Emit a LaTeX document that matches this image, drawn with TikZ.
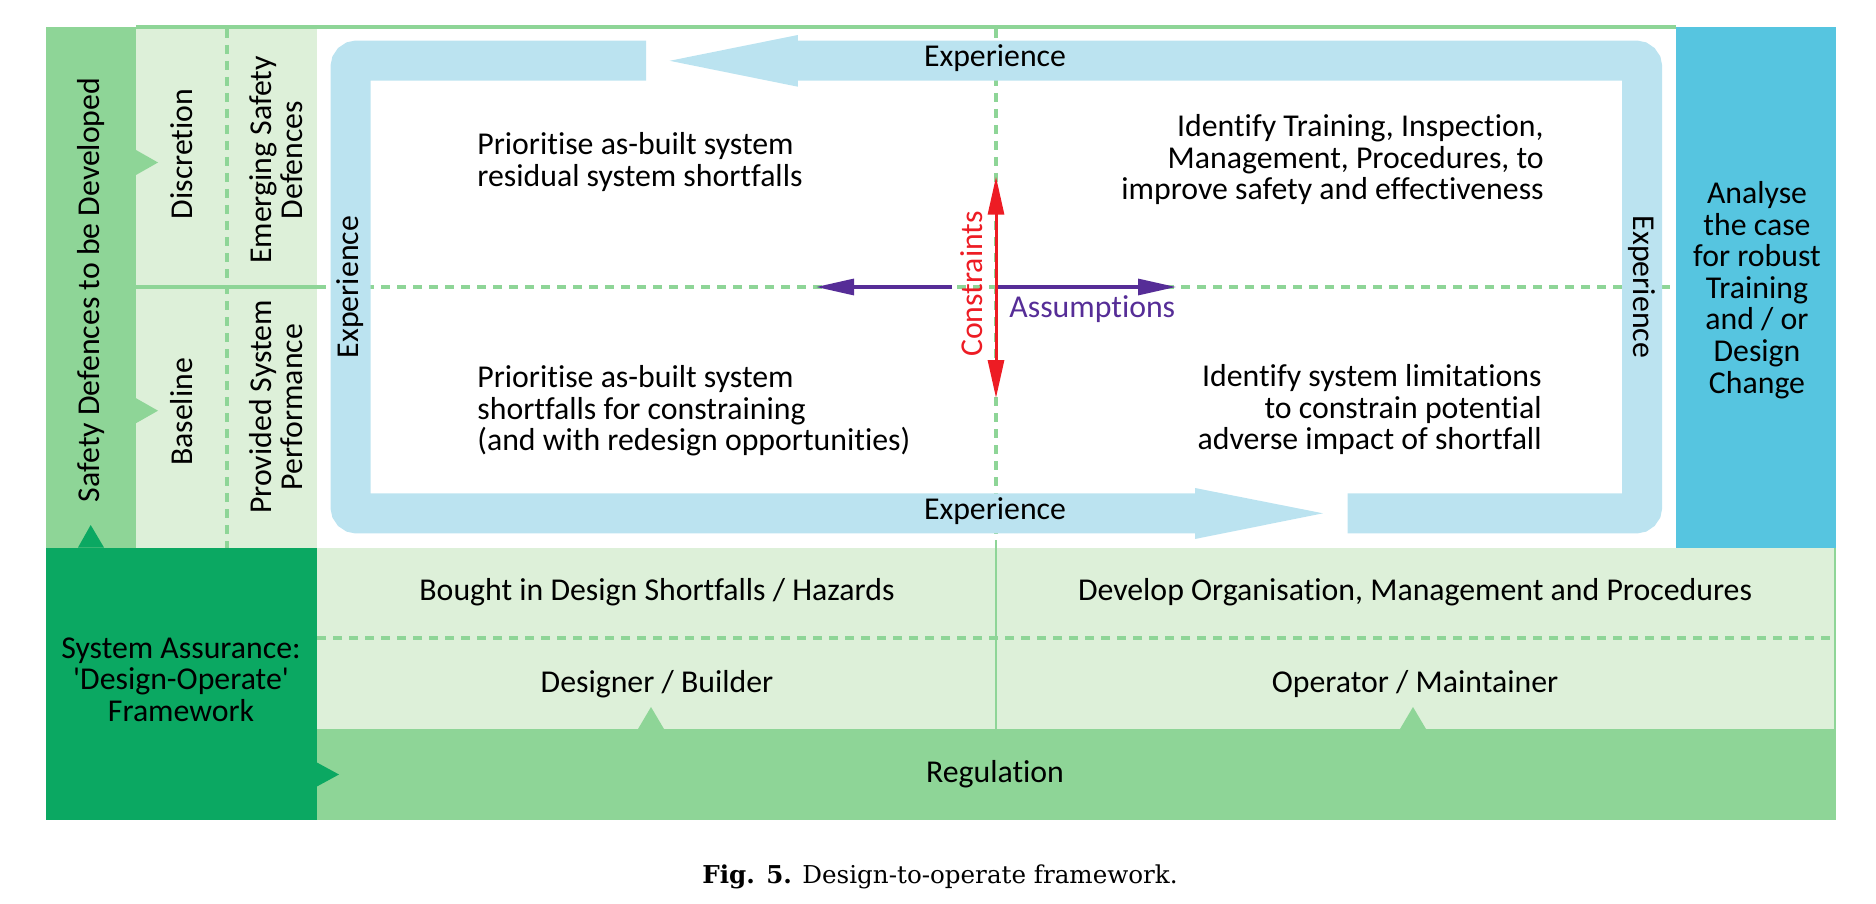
\documentclass[tikz,border=0pt]{standalone}
\usepackage{fontspec}
\setmainfont{Carlito}[Ligatures=NoCommon]
\newfontfamily\captionserif{DejaVu Serif}
\usetikzlibrary{arrows.meta}
\definecolor{midgreen}{HTML}{8ED597}
\definecolor{palegreen}{HTML}{DDF0D9}
\definecolor{darkgreen}{HTML}{0BA862}
\definecolor{bandblue}{HTML}{BBE3F0}
\definecolor{boxcyan}{HTML}{56C5E0}
\definecolor{constrred}{HTML}{ED1C24}
\definecolor{assumpurple}{HTML}{562D97}

\begin{document}
\begin{tikzpicture}[x=0.5pt,y=-0.5pt,>={Triangle[length=19pt,width=8pt]},
        lbl/.style={font=\fontsize{15.9}{15.8}\selectfont,inner sep=0pt},
        solidline/.style={midgreen,line width=2pt},
        dashline/.style={midgreen,line width=1.8pt,dash pattern=on 4.5pt off 3.5pt},
        band/.style={bandblue,line width=20pt,rounded corners=3pt}]
            \useasboundingbox (0,0) rectangle (1876,904);
            \fill[midgreen] (45.7,27) rectangle (136,547.5);
            \fill[palegreen] (136,27) rectangle (317,547.5);
            \fill[boxcyan] (1676,27) rectangle (1836,547.5);
            \fill[darkgreen] (45.7,547.5) rectangle (317,820);
            \fill[palegreen] (317,547.5) rectangle (1835,729);
            \fill[midgreen] (317,729) rectangle (1836,820);
            \draw[solidline] (136,27) -- (1676,27);
            \draw[solidline] (136,287) -- (317,287);
            \draw[dashline] (317,287) -- (1676,287);
            \draw[dashline] (227,29) -- (227,547.5);
            \draw[dashline] (996,29) -- (996,540);
            \draw[solidline,line width=1.2pt] (996,540) -- (996,729);
            \draw[solidline,line width=1.2pt] (1835,547.5) -- (1835,729);
            \draw[dashline] (317,638) -- (1835,638);
            \draw[band] (646,60.7) -- (350.7,60.7) -- (350.7,513.3) -- (1196,513.3);
            \draw[band] (1347.5,513.3) -- (1642,513.3) -- (1642,60.7) -- (797,60.7);
            \fill[bandblue] (797.8,35) -- (669.6,60.8) -- (797.8,86.7) -- cycle;
            \fill[bandblue] (1195,488) -- (1323,513.3) -- (1195,539) -- cycle;
            \foreach \ty in {162.5,410.7}
                \fill[midgreen] (136,{\ty-12.5}) -- (158,\ty) -- (136,{\ty+12.5}) -- cycle;
            \foreach \tx in {651,1413}
                \fill[midgreen] ({\tx-13},729) -- (\tx,707) -- ({\tx+13},729) -- cycle;
            \fill[darkgreen] (78,547.5) -- (90.7,525) -- (104,547.5) -- cycle;
            \fill[darkgreen] (316,762) -- (339,774.5) -- (316,787) -- cycle;
            \coordinate (cT) at (996,176.7);
            \coordinate (cB) at (996,398);
            \coordinate (aL0) at (952,287);
            \coordinate (aL1) at (816,287);
            \coordinate (aR0) at (997,287);
            \coordinate (aR1) at (1176,287);
            \draw[assumpurple,line width=1.6pt,->] (aL0) -- (aL1);
            \draw[assumpurple,line width=1.6pt,->] (aR0) -- (aR1);
            \draw[constrred,line width=1.5pt,<->] (cB) -- (cT);
            \node[lbl,rotate=90] (safety) at (91,290) {Safety Defences to be Developed};
            \node[lbl,rotate=90] (discr) at (182,154) {Discretion};
            \node[lbl,rotate=90] (basel) at (182,412) {Baseline};
            \node[lbl,rotate=90,align=center] (emerg) at (276,160) {Emerging Safety\\Defences};
            \node[lbl,rotate=90,align=center] (provd) at (276,407) {Provided System\\Performance};
            \node[lbl,anchor=base] (expT) at (995,67) {Experience};
            \node[lbl,anchor=base] (expB) at (995,519.5) {Experience};
            \node[lbl,rotate=90] (expL) at (350,287) {Experience};
            \node[lbl,rotate=-90] (expR) at (1642,287) {Experience};
            \node[lbl,anchor=north west,align=left] (qTL) at (477,132)
                {Prioritise as-built system\\residual system shortfalls};
            \node[lbl,anchor=north east,align=right] (qTR) at (1544,114)
                {Identify Training, Inspection,\\Management, Procedures, to\\improve safety and effectiveness};
            \node[lbl,anchor=north west,align=left] (qBL) at (477,365)
                {Prioritise as-built system\\shortfalls for constraining\\(and with redesign opportunities)};
            \node[lbl,anchor=north east,align=right] (qBR) at (1542,364)
                {Identify system limitations\\to constrain potential\\adverse impact of shortfall};
            \node[lbl,rotate=90,text=constrred] (constr) at (972,284) {Constraints};
            \node[lbl,anchor=base west,text=assumpurple] (assum) at (1009,317) {Assumptions};
            \node[lbl,anchor=north,align=center] (analyse) at (1757,181)
                {Analyse\\the case\\for robust\\Training\\and / or\\Design\\Change};
            \node[lbl,anchor=north,align=center] (sysas) at (181,637)
                {System Assurance:\\\textquotesingle Design-Operate\textquotesingle\\Framework};
            \node[lbl,anchor=base] (bought) at (657,600) {Bought in Design Shortfalls / Hazards};
            \node[lbl,anchor=base] (develop) at (1415,600) {Develop Organisation, Management and Procedures};
            \node[lbl,anchor=base] (designer) at (657,692) {Designer / Builder};
            \node[lbl,anchor=base] (operator) at (1415,692) {Operator / Maintainer};
            \node[lbl,anchor=base] (reg) at (995,782) {Regulation};
            \node[anchor=base,inner sep=0pt,font=\captionserif\fontsize{12.3}{14}\selectfont] (caption) at (940,883)
                {\textbf{Fig. 5.} Design-to-operate framework.};
        \end{tikzpicture}
\end{document}
